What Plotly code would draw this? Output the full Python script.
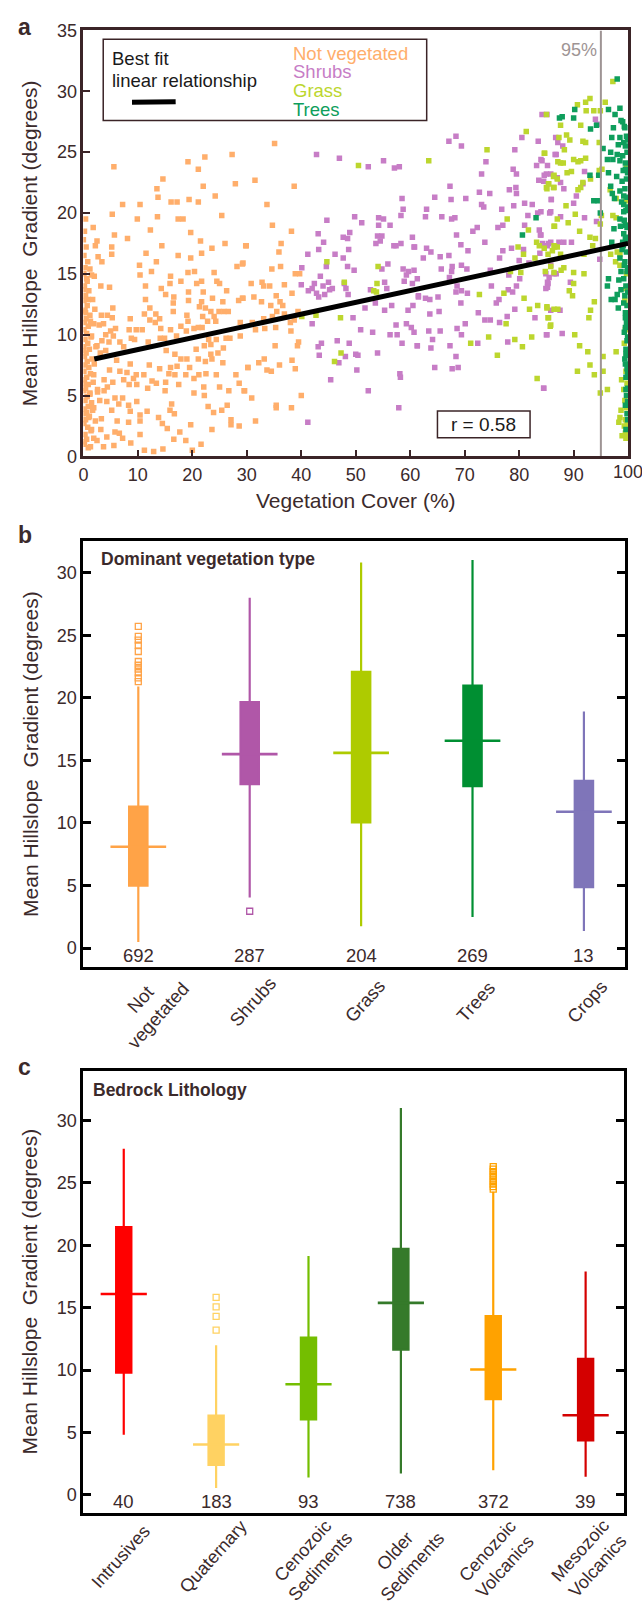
import plotly.graph_objects as go

W, H = 642, 1610
FONT = "Liberation Sans, Arial, Helvetica, sans-serif"
INK = "#3b2a2b"
FRAME_A = "#3b2427"

# ---------------- panel a: gradient vs vegetation cover ----------------
bare_pts = [
    (5.6, 23.8), (19.2, 24.2), (22.3, 24.6), (27.3, 24.8), (21.1, 23.6), (14.6, 22.8), (13.5, 22.0), (13.7, 21.3),
    (22.0, 22.2), (27.9, 22.4), (7.2, 20.7), (10.4, 20.7), (16.1, 20.9), (17.2, 20.9), (19.4, 21.1), (21.1, 20.9),
    (24.2, 21.4), (5.3, 19.9), (9.9, 19.5), (13.6, 19.7), (17.4, 19.5), (18.3, 19.5), (25.4, 19.8), (1.8, 18.8),
    (12.3, 18.6), (5.7, 18.2), (8.1, 17.9), (19.7, 18.4), (2.5, 17.7), (2.2, 17.3), (5.2, 17.2), (14.4, 17.3),
    (21.5, 17.7), (26.0, 17.5), (29.9, 17.3), (5.2, 16.6), (2.7, 16.4), (3.4, 16.0), (11.5, 16.7), (17.4, 16.5),
    (19.7, 16.3), (21.7, 16.7), (23.6, 17.1), (13.4, 16.0), (10.3, 15.7), (28.2, 15.6), (29.2, 15.8), (1.2, 15.4),
    (2.0, 14.8), (10.4, 14.9), (12.5, 15.2), (16.0, 14.8), (17.9, 14.4), (19.2, 15.1), (20.4, 15.2), (24.0, 15.1),
    (0.7, 14.4), (3.2, 14.0), (4.8, 13.9), (11.4, 14.0), (14.3, 13.8), (15.9, 14.2), (20.8, 14.2), (21.7, 14.4),
    (24.5, 14.4), (25.0, 14.2), (19.3, 13.5), (22.0, 13.5), (26.3, 13.6), (15.1, 13.3), (16.6, 13.1), (11.4, 12.9),
    (19.3, 12.8), (21.7, 12.7), (23.7, 13.0), (25.6, 12.7), (28.5, 12.8), (29.2, 13.0), (0.9, 12.9), (12.2, 12.2),
    (16.5, 12.6), (21.3, 12.3), (5.4, 12.2), (2.1, 12.1), (22.4, 12.2), (23.4, 11.9), (24.9, 11.9), (25.8, 11.9),
    (26.6, 11.9), (0.4, 11.8), (11.2, 11.7), (13.3, 11.7), (16.5, 11.9), (19.0, 11.6), (3.3, 11.6), (4.4, 11.6),
    (5.3, 11.4), (8.6, 11.3), (12.2, 11.2), (14.0, 11.3), (21.9, 11.5), (24.0, 11.5), (1.3, 11.1), (2.9, 10.8),
    (3.7, 10.9), (13.2, 11.0), (19.2, 11.1), (22.8, 11.1), (24.3, 11.1), (28.8, 11.0), (17.9, 10.7), (20.3, 10.5),
    (5.9, 10.5), (5.0, 10.3), (8.4, 10.4), (9.7, 10.4), (10.8, 10.4), (14.2, 10.5), (16.0, 10.4), (18.9, 10.3),
    (21.1, 10.6), (21.8, 10.6), (4.1, 10.0), (1.5, 9.9), (8.8, 9.7), (9.4, 9.6), (5.5, 9.9), (14.1, 9.7),
    (14.9, 9.7), (17.1, 9.9), (23.0, 9.6), (24.4, 9.6), (26.2, 9.7), (26.9, 9.7), (28.8, 9.9), (3.4, 9.5),
    (4.7, 9.4), (6.7, 9.4), (11.9, 9.4), (22.2, 9.1), (23.4, 9.2), (2.5, 9.1), (7.4, 9.0), (20.7, 8.8),
    (25.7, 8.9), (15.2, 8.7), (16.8, 8.4), (23.4, 8.4), (24.7, 8.5), (4.1, 8.7), (3.1, 8.5), (17.9, 8.0),
    (19.0, 8.0), (21.1, 8.0), (22.4, 7.8), (23.6, 8.0), (25.6, 7.7), (30.2, 7.3), (6.1, 7.9), (8.6, 7.6),
    (12.1, 7.5), (14.0, 7.2), (16.0, 7.3), (17.2, 7.4), (19.5, 7.3), (4.8, 7.1), (6.7, 7.0), (8.0, 6.9),
    (9.7, 6.7), (11.1, 6.7), (15.7, 6.8), (16.8, 6.7), (18.8, 6.7), (21.2, 6.7), (22.5, 6.8), (24.4, 6.7),
    (28.0, 6.7), (1.9, 6.7), (3.8, 6.3), (5.4, 6.1), (7.4, 6.3), (9.2, 6.4), (12.6, 6.2), (13.4, 6.0),
    (15.1, 6.1), (17.5, 5.9), (20.3, 6.4), (28.6, 6.0), (4.4, 5.7), (8.4, 5.9), (9.8, 5.9), (11.8, 5.6),
    (15.0, 5.4), (22.1, 5.7), (25.0, 5.7), (26.7, 5.4), (29.5, 5.4), (2.6, 5.3), (3.8, 5.4), (1.2, 5.2),
    (5.8, 4.8), (7.2, 4.8), (9.8, 4.5), (20.3, 5.2), (22.2, 5.0), (3.0, 4.6), (4.3, 4.5), (6.5, 4.3),
    (8.3, 4.2), (8.6, 3.7), (16.2, 4.3), (22.9, 4.1), (26.4, 4.2), (1.9, 4.0), (5.2, 3.8), (10.4, 3.4),
    (11.7, 3.7), (15.9, 3.8), (16.7, 3.5), (23.9, 3.6), (25.4, 3.8), (1.0, 3.2), (3.3, 3.1), (6.2, 2.9),
    (8.3, 2.8), (10.4, 2.9), (13.8, 3.2), (14.5, 2.7), (19.7, 2.6), (27.1, 3.0), (27.1, 2.6), (28.6, 2.5),
    (15.4, 2.3), (1.5, 2.2), (3.2, 2.2), (23.6, 2.2), (5.8, 2.0), (6.6, 1.9), (7.2, 1.5), (10.4, 1.8),
    (17.7, 2.0), (4.3, 1.6), (1.9, 1.5), (16.6, 1.4), (18.8, 1.3), (2.5, 1.3), (8.7, 1.1), (21.6, 1.0),
    (1.3, 0.8), (3.7, 0.8), (5.6, 0.9), (11.2, 0.5), (12.9, 0.4), (14.6, 0.6), (20.0, 0.5),
    # sites with almost no cover
    (0.2, 18.5), (0.5, 17.2), (0.1, 16.5), (0.8, 16.0), (0.3, 15.5), (0.1, 15.0), (0.6, 14.6), (0.2, 14.0),
    (1.0, 13.6), (0.4, 13.2), (0.1, 12.8), (0.7, 12.4), (0.3, 12.0), (1.2, 11.6), (0.5, 11.3), (0.2, 11.0),
    (0.9, 10.7), (0.1, 10.4), (0.6, 10.1), (1.4, 9.8), (0.3, 9.6), (0.8, 9.3), (0.1, 9.0), (1.1, 8.8),
    (0.5, 8.5), (0.2, 8.2), (1.6, 8.0), (0.7, 7.8), (0.3, 7.5), (1.0, 7.3), (0.1, 7.0), (1.3, 6.8),
    (0.6, 6.5), (0.2, 6.3), (1.8, 6.1), (0.9, 5.9), (0.4, 5.6), (0.1, 5.4), (1.2, 5.1), (0.7, 4.9),
    (0.3, 4.6), (1.5, 4.4), (0.9, 4.1), (0.2, 3.9), (0.6, 3.6), (1.1, 3.3), (0.4, 3.0), (0.1, 2.7),
    (0.8, 2.4), (1.4, 2.1), (0.3, 1.8), (0.6, 1.4), (0.2, 1.0), (0.9, 0.7), (1.7, 12.9), (1.9, 10.9),
    (1.5, 14.9), (0.4, 19.5), (0.0, 17.8), (2.0, 7.6), (2.3, 9.0), (2.6, 5.5), (1.7, 3.8), (2.2, 2.9),
    (0.05, 13.7), (0.05, 11.9), (0.05, 8.7), (0.05, 6.0), (0.05, 3.5), (0.05, 1.2),
    # 30-40 % cover
    (35.1, 25.7), (31.5, 22.7), (38.7, 22.2), (33.7, 20.7), (34.7, 19.0), (38.2, 18.5), (29.8, 17.3), (36.3, 17.5),
    (35.9, 16.8), (29.3, 15.9), (34.6, 15.4), (36.2, 15.6), (38.9, 15.0), (39.7, 15.0), (30.8, 14.2), (32.8, 14.3),
    (33.1, 14.0), (34.2, 14.0), (36.9, 14.1), (38.3, 13.4), (29.3, 13.0), (31.3, 13.1), (35.4, 13.2), (32.7, 12.7),
    (36.1, 12.7), (34.4, 12.4), (36.6, 12.4), (35.5, 11.9), (36.9, 11.7), (39.4, 11.9), (33.1, 11.3), (34.7, 11.5),
    (38.7, 11.2), (31.0, 11.0), (31.6, 10.4), (33.3, 10.5), (35.3, 10.6), (38.0, 11.0), (38.1, 10.3), (35.2, 9.1),
    (39.3, 9.1), (39.5, 9.4), (33.2, 8.0), (32.2, 7.7), (36.0, 7.5), (30.2, 7.3), (33.7, 7.1), (34.5, 7.0),
    (38.3, 7.9), (38.9, 7.2), (29.6, 5.4), (30.9, 4.8), (40.0, 5.0), (35.4, 4.2), (35.4, 4.0), (38.2, 4.0),
    (31.6, 2.9),
]

shrub_pts = [
    (42.8, 24.8), (47.0, 24.5), (52.3, 23.8), (55.1, 24.3), (57.1, 23.7), (58.0, 23.8), (58.5, 21.2), (58.7, 20.3),
    (58.3, 19.8), (49.8, 19.7), (51.1, 19.2), (54.2, 19.6), (55.1, 19.5), (54.2, 19.0), (56.3, 19.0), (44.7, 19.4),
    (43.1, 18.3), (48.9, 18.4), (47.7, 18.0), (48.5, 17.9), (44.1, 17.6), (43.2, 17.0), (54.0, 18.1), (54.8, 18.1),
    (54.5, 17.7), (53.7, 17.5), (57.0, 17.3), (57.4, 17.3), (58.3, 17.5), (60.4, 18.0), (60.7, 17.2), (41.2, 16.6),
    (46.2, 16.6), (47.7, 16.3), (48.7, 17.0), (44.6, 15.6), (48.5, 15.6), (49.7, 15.3), (55.9, 15.8), (54.8, 15.4),
    (40.1, 15.5), (58.7, 15.4), (59.7, 15.2), (60.7, 15.3), (43.5, 14.8), (40.0, 14.1), (42.4, 14.2), (44.0, 14.0),
    (45.0, 14.3), (41.3, 13.6), (42.0, 13.8), (42.8, 13.4), (43.2, 13.1), (44.3, 13.3), (45.2, 13.7), (45.7, 13.8),
    (47.9, 14.2), (48.2, 13.8), (48.6, 13.3), (52.7, 13.7), (55.3, 14.3), (55.7, 13.8), (58.9, 14.4), (59.3, 14.9),
    (60.4, 14.2), (61.5, 13.2), (51.7, 12.2), (53.6, 12.6), (55.3, 12.0), (56.6, 12.4), (59.6, 12.0), (60.5, 12.4),
    (49.5, 11.4), (42.0, 10.9), (50.9, 10.4), (53.1, 10.2), (57.4, 10.8), (56.3, 10.0), (57.6, 10.0), (59.3, 10.9),
    (60.2, 10.6), (60.7, 10.2), (43.7, 9.3), (43.1, 9.0), (46.6, 9.5), (48.8, 9.3), (43.3, 8.3), (48.1, 8.2),
    (50.0, 8.4), (50.4, 8.3), (54.0, 8.5), (58.5, 9.3), (61.3, 9.1), (46.9, 7.7), (50.2, 7.1), (45.4, 6.3),
    (52.3, 5.4), (58.1, 6.8), (58.2, 6.5), (57.9, 4.0), (41.2, 2.8),
    (68.4, 26.3), (67.1, 25.9), (69.4, 25.5), (80.5, 26.2), (83.5, 25.9), (79.2, 25.2), (73.9, 24.2), (84.2, 24.3),
    (83.2, 23.9), (86.8, 24.8), (78.9, 23.6), (79.5, 23.2), (73.1, 23.2), (85.0, 23.2), (83.6, 22.7), (67.3, 22.2),
    (78.2, 21.9), (79.4, 22.1), (79.5, 21.6), (72.7, 21.7), (74.6, 21.6), (64.5, 21.3), (67.5, 21.1), (70.2, 21.2),
    (73.1, 20.7), (73.5, 20.5), (81.0, 20.8), (82.4, 20.7), (79.0, 20.6), (85.9, 21.1), (63.0, 20.3), (62.8, 19.7),
    (65.8, 19.7), (67.6, 19.5), (68.2, 19.6), (76.8, 20.3), (81.6, 19.8), (83.4, 20.0), (85.6, 20.0), (77.0, 19.0),
    (81.0, 19.0), (72.3, 18.8), (71.5, 18.5), (76.1, 18.8), (83.7, 18.6), (83.9, 18.2), (68.5, 18.2), (73.7, 17.6),
    (69.3, 17.4), (78.6, 17.1), (77.0, 16.9), (84.3, 17.5), (85.4, 17.5), (83.8, 16.7), (80.8, 17.0), (80.0, 16.1),
    (81.8, 15.9), (70.6, 16.9), (63.0, 17.1), (63.8, 16.8), (62.4, 16.3), (60.8, 17.2), (65.5, 16.4), (67.1, 16.5),
    (76.4, 16.3), (65.7, 15.4), (67.7, 15.6), (67.6, 15.2), (69.4, 15.7), (70.4, 15.4), (74.7, 15.3), (78.1, 14.9),
    (80.1, 14.6), (85.5, 14.7), (86.8, 15.0), (67.2, 14.7), (61.3, 14.6), (68.6, 14.0), (74.9, 14.0), (79.5, 14.0),
    (84.9, 13.8), (85.3, 14.2), (68.4, 13.5), (69.4, 13.6), (70.5, 13.4), (78.0, 13.7), (78.8, 13.5), (61.5, 13.1),
    (62.8, 13.0), (63.6, 12.9), (65.1, 13.1), (69.3, 12.6), (76.3, 12.9), (75.8, 12.6), (79.2, 12.1), (63.6, 11.7),
    (65.3, 11.9), (72.5, 11.8), (77.8, 11.5), (73.7, 11.2), (74.7, 11.2), (76.4, 11.0), (82.9, 11.4), (70.1, 10.9),
    (68.6, 10.5), (69.4, 10.0), (63.4, 10.3), (65.5, 10.3), (64.1, 9.6), (72.4, 9.3), (77.9, 9.4), (85.0, 10.0),
    (61.3, 9.1), (63.8, 8.9), (67.3, 9.1), (68.4, 8.2), (64.5, 7.3), (67.7, 7.2), (68.8, 7.3), (84.5, 5.6),
    (84.2, 28.1), (85.1, 28.1), (94.0, 27.7), (94.3, 27.3), (86.7, 26.2), (87.1, 25.8), (88.0, 25.5), (86.6, 24.8),
    (84.0, 24.4), (85.2, 23.9), (85.8, 23.2), (84.6, 23.1), (84.5, 22.6), (87.0, 22.9), (87.6, 22.5), (88.2, 22.0),
    (92.0, 23.4), (91.7, 22.4), (90.5, 21.4), (85.9, 21.1), (84.0, 20.1), (90.0, 20.8), (85.8, 20.1), (92.0, 19.6),
    (87.6, 19.7), (94.2, 19.3), (84.0, 18.2), (85.8, 17.6), (87.3, 17.6), (88.2, 17.6), (89.6, 17.6), (85.2, 17.3),
    (85.8, 15.7), (84.9, 15.0), (86.4, 15.0), (85.2, 14.3), (85.2, 13.9), (89.4, 14.3), (87.5, 12.0), (85.8, 12.0),
    (85.1, 10.0), (87.9, 10.1), (94.8, 16.2), (84.5, 5.6),
]

grass_pts = [
    (50.5, 23.9), (44.7, 16.0), (54.1, 15.6), (47.9, 14.3), (53.9, 14.2), (53.3, 13.6), (53.8, 13.5), (42.7, 11.6),
    (47.2, 11.4), (47.3, 8.5), (46.1, 7.8), (40.1, 11.5),
    (63.4, 24.3), (74.1, 25.2), (81.3, 26.7), (84.6, 24.9), (87.1, 24.2), (86.3, 23.0), (85.4, 22.4), (85.0, 22.1),
    (86.3, 22.1), (87.0, 22.8), (77.8, 19.5), (86.5, 18.9), (81.7, 18.6), (83.2, 17.6), (83.7, 17.3), (79.8, 17.2),
    (80.8, 16.6), (82.9, 16.3), (86.5, 17.2), (86.1, 16.9), (85.8, 15.6), (84.8, 15.2), (80.3, 15.1), (78.4, 15.2),
    (72.7, 13.3), (77.2, 13.4), (80.9, 13.0), (81.9, 12.1), (83.4, 12.4), (85.1, 12.3), (86.4, 12.1), (87.1, 12.1),
    (85.3, 11.4), (85.8, 10.8), (77.6, 10.9), (74.4, 9.8), (82.3, 9.8), (71.1, 9.3), (79.2, 9.6), (80.6, 9.0),
    (76.0, 8.3), (83.3, 6.4), (85.0, 28.1), (88.3, 25.2),
    (97.2, 30.8), (93.0, 29.4), (92.2, 29.1), (90.7, 28.9), (95.8, 29.1), (93.7, 28.4), (92.3, 28.4), (94.9, 28.4),
    (91.3, 27.2), (87.6, 27.2), (88.7, 26.4), (87.3, 26.2), (89.3, 26.0), (91.7, 25.9), (92.2, 25.8), (94.7, 25.8),
    (84.7, 24.9), (87.6, 24.1), (88.1, 24.1), (90.0, 24.4), (90.8, 24.2), (91.3, 24.3), (92.2, 24.5), (88.8, 23.3),
    (89.6, 23.4), (86.4, 23.1), (85.4, 22.4), (85.1, 22.0), (86.4, 22.1), (91.7, 22.5), (91.3, 22.1), (90.8, 21.9),
    (93.1, 22.8), (94.7, 23.5), (95.2, 23.6), (96.7, 21.9), (97.8, 21.2), (88.6, 20.6), (90.3, 19.9), (87.0, 19.5),
    (89.0, 19.2), (86.4, 18.9), (91.1, 18.5), (93.0, 18.0), (94.0, 17.9), (94.9, 19.1), (95.1, 19.8), (97.2, 19.8),
    (97.8, 19.6), (86.4, 17.3), (87.0, 17.2), (85.3, 16.6), (84.6, 17.1), (87.6, 16.6), (91.9, 16.6), (93.5, 17.3),
    (98.0, 16.8), (96.8, 16.6), (98.5, 16.6), (97.7, 16.0), (98.5, 15.7), (88.2, 15.5), (87.7, 15.3), (86.4, 15.1),
    (90.0, 15.1), (91.9, 15.0), (90.0, 14.2), (89.2, 13.6), (89.8, 13.2), (93.8, 12.7), (85.1, 12.2), (93.1, 12.0),
    (85.4, 11.4), (92.8, 11.4), (85.7, 10.7), (90.2, 10.0), (91.1, 9.1), (92.6, 8.6), (95.4, 8.2), (97.8, 8.6),
    (93.0, 7.5), (90.7, 7.0), (93.8, 6.7), (95.4, 7.0), (94.9, 5.2), (96.2, 5.5), (98.8, 6.3), (98.7, 3.8),
    (98.5, 3.2), (98.3, 2.8), (98.9, 1.7), (99.2, 5.5), (99.3, 9.3), (99.4, 12.8),
    (99.6, 1.5), (99.8, 2.6), (99.5, 3.0), (99.7, 4.0), (99.4, 4.6), (99.8, 6.0), (99.6, 7.0), (99.7, 8.5),
    (99.5, 10.4), (99.8, 11.3), (99.6, 13.8), (99.7, 15.0), (99.8, 19.0), (99.6, 21.0), (99.7, 24.0), (99.5, 1.9),
    (99.3, 2.5),
]

tree_pts = [
    (83.1, 19.6), (80.6, 18.2), (87.4, 27.8),
    (98.0, 31.0), (90.2, 28.5), (96.4, 28.5), (97.6, 28.1), (98.5, 28.6), (87.9, 27.9), (90.0, 27.8), (93.1, 26.9),
    (94.2, 27.2), (97.0, 26.2), (98.5, 26.2), (99.0, 27.5), (99.3, 27.1), (95.4, 25.3), (96.2, 24.4), (97.2, 24.4),
    (98.0, 24.8), (98.5, 24.3), (99.0, 24.7), (99.5, 25.5), (99.5, 23.6), (96.4, 23.3), (94.6, 23.1), (93.0, 23.1),
    (96.8, 22.2), (97.1, 21.6), (97.5, 21.2), (93.7, 21.0), (94.5, 21.0), (98.5, 21.8), (99.2, 21.4), (94.9, 20.0),
    (99.2, 20.1), (98.5, 19.5), (99.5, 19.0), (99.2, 18.3), (97.0, 17.6), (99.0, 17.6), (98.5, 16.3), (99.3, 15.7),
    (96.2, 14.0), (98.7, 13.7), (98.2, 12.2), (99.2, 12.6), (99.5, 11.4), (99.5, 10.6), (99.6, 8.4), (99.5, 7.6),
    (99.6, 5.5),
    (99.4, 27.0), (99.7, 26.3), (99.2, 25.8), (99.8, 25.0), (99.5, 24.1), (99.1, 23.5), (99.7, 22.8), (99.4, 22.0),
    (99.8, 21.3), (99.2, 20.7), (99.6, 20.2), (99.3, 19.4), (99.8, 18.8), (99.5, 18.0), (99.1, 17.3), (99.7, 16.8),
    (99.4, 16.0), (99.8, 15.2), (99.2, 14.6), (99.6, 14.0), (99.4, 13.2), (99.8, 12.4), (99.5, 11.8), (99.7, 11.0),
    (99.3, 10.2), (99.8, 9.5), (99.6, 8.8), (99.4, 8.0), (99.8, 7.2), (99.6, 6.5), (99.7, 5.0), (99.5, 4.2),
    (99.8, 3.5), (99.6, 2.2), (98.9, 22.6), (98.8, 20.9), (98.6, 18.9), (98.9, 17.0), (98.7, 15.2), (98.3, 14.5),
    (98.0, 13.3), (97.6, 12.9), (96.9, 12.9), (96.4, 14.6), (97.4, 18.7), (97.9, 23.0), (98.2, 25.6), (96.8, 25.0),
    (97.3, 27.0), (98.7, 27.6), (99.9, 26.0), (99.9, 23.3), (99.9, 20.5), (99.9, 17.8), (99.9, 15.5), (99.9, 13.5),
    (99.9, 11.6), (99.9, 9.8), (99.9, 8.3), (99.9, 6.9), (99.9, 5.6), (99.9, 4.5), (99.9, 3.0),
]

cover_groups = ["Not vegetated", "Shrubs", "Grass", "Trees"]
cover_colors = ["#FFAE6B", "#C77DC6", "#BCD62E", "#0E9E5C"]
cover_ticks = list(range(0, 101, 10))

fit_x = [2, 100]
fit_y = [8.0, 17.5]
threshold = 95
r_value = 0.58

# ---------------- panel b: dominant vegetation type ----------------
veg_types = ["Not<br>vegetated", "Shrubs", "Grass", "Trees", "Crops"]
veg_n = [692, 287, 204, 269, 13]
veg_low = [0.5, 4.05, 1.76, 2.5, 1.37]
veg_q1 = [5.0, 13.1, 10.05, 12.94, 4.87]
veg_median = [8.1, 15.5, 15.6, 16.57, 10.9]
veg_q3 = [11.3, 19.65, 22.07, 20.97, 13.37]
veg_high = [20.9, 28.0, 30.8, 31.0, 18.9]
veg_outliers = [[21.3, 21.6, 22.0, 22.3, 22.6, 22.9, 23.7, 24.2, 24.6, 24.9, 25.7], [2.95], [], [], []]
veg_colors = ["#FFA347", "#B057A8", "#AECB00", "#008F32", "#7F75B9"]

# ---------------- panel c: bedrock lithology ----------------
litho = ["Intrusives", "Quaternary", "Cenozoic<br>Sediments", "Older<br>Sediments",
         "Cenozoic<br>Volcanics", "Mesozoic<br>Volcanics"]
litho_n = [40, 183, 93, 738, 372, 39]
litho_low = [4.82, 0.54, 1.39, 1.7, 1.97, 1.44]
litho_q1 = [9.79, 2.39, 6.04, 11.63, 7.67, 4.37]
litho_median = [16.1, 4.03, 8.86, 15.39, 10.05, 6.38]
litho_q3 = [21.46, 6.35, 12.61, 19.72, 14.33, 10.9]
litho_high = [27.75, 11.98, 19.14, 31.0, 24.3, 17.9]
litho_outliers = [[], [13.2, 14.3, 15.07, 15.83], [], [],
                  [24.5, 24.7, 24.9, 25.1, 25.3, 25.5, 25.7, 25.9, 26.1, 26.3], []]
litho_colors = ["#FF0000", "#FFD262", "#74BE00", "#357A2A", "#FFA200", "#D40000"]

# ---------------- layout geometry (pixels) ----------------
PANEL_A = dict(l=79, r=628, t=20.7, b=452, xr=[0, 100], yr=[0, 35])
PANEL_B = dict(l=79, r=625, t=538, b=969, xr=[0.507, 5.37], yr=[-1.5, 32.5])
PANEL_C = dict(l=79, r=624, t=1074, b=1521.7, xr=[0.563, 6.417], yr=[-1.44, 34.0])


def fx(px):
    return px / W


def fy(py):
    return 1 - py / H


def cat_px(panel, pos):
    x0, x1 = panel["xr"]
    return panel["l"] + (pos - x0) / (x1 - x0) * (panel["r"] - panel["l"])


fig = go.Figure()

# scatter of sites
for pts, name, col in zip([bare_pts, shrub_pts, grass_pts, tree_pts], cover_groups, cover_colors):
    fig.add_trace(go.Scatter(
        x=[p[0] for p in pts], y=[p[1] for p in pts], mode="markers", name=name,
        marker=dict(symbol="square", size=5.5, color=col, line=dict(width=0)),
        xaxis="x", yaxis="y", hoverinfo="skip"))

# 95 % cover threshold
fig.add_trace(go.Scatter(x=[threshold, threshold], y=PANEL_A["yr"], mode="lines",
                         line=dict(color="#9E9494", width=2), xaxis="x", yaxis="y", hoverinfo="skip"))
# linear fit
fig.add_trace(go.Scatter(x=fit_x, y=fit_y, mode="lines", line=dict(color="black", width=5),
                         xaxis="x", yaxis="y", hoverinfo="skip"))


def add_boxes(axis_id, lows, q1s, meds, q3s, highs, outs, cols):
    xa, ya = "x" + axis_id, "y" + axis_id
    for i, (lo, q1, md, q3, hi, out, c) in enumerate(zip(lows, q1s, meds, q3s, highs, outs, cols)):
        pos = i + 1
        fig.add_trace(go.Box(
            x=[pos], lowerfence=[lo], q1=[q1], median=[md], q3=[q3], upperfence=[hi],
            width=0.165, whiskerwidth=0, fillcolor=c, line=dict(color=c, width=2.2),
            boxpoints=False, xaxis=xa, yaxis=ya, hoverinfo="skip"))
        fig.add_trace(go.Scatter(
            x=[pos - 0.25, pos + 0.25], y=[md, md], mode="lines",
            line=dict(color=c, width=2.6), xaxis=xa, yaxis=ya, hoverinfo="skip"))
        if out:
            fig.add_trace(go.Scatter(
                x=[pos] * len(out), y=out, mode="markers",
                marker=dict(symbol="square-open", size=6, color=c, line=dict(width=1.3, color=c)),
                xaxis=xa, yaxis=ya, hoverinfo="skip"))


add_boxes("2", veg_low, veg_q1, veg_median, veg_q3, veg_high, veg_outliers, veg_colors)
add_boxes("3", litho_low, litho_q1, litho_median, litho_q3, litho_high, litho_outliers, litho_colors)

tick_font = dict(family=FONT, size=18, color=INK)


def xdom(p):
    return [fx(p["l"]), fx(p["r"])]


def ydom(p):
    return [fy(p["b"]), fy(p["t"])]


# the last cover label sits on the page edge, so it is written separately below
cover_text = [str(v) for v in cover_ticks[:-1]] + [""]

fig.update_layout(
    width=W, height=H, margin=dict(l=0, r=0, t=0, b=0),
    paper_bgcolor="white", plot_bgcolor="white", showlegend=False,
    font=dict(family=FONT, color=INK),
    xaxis=dict(domain=xdom(PANEL_A), range=PANEL_A["xr"], anchor="y",
               tickvals=cover_ticks, ticktext=cover_text,
               ticks="inside", ticklen=7, tickwidth=2, tickcolor=FRAME_A,
               showline=True, linecolor=FRAME_A, linewidth=2.5, mirror=True,
               showgrid=False, zeroline=False, tickfont=tick_font),
    yaxis=dict(domain=ydom(PANEL_A), range=PANEL_A["yr"], anchor="x",
               tickvals=list(range(0, 36, 5)), ticks="inside", ticklen=7, tickwidth=2, tickcolor=FRAME_A,
               showline=True, linecolor=FRAME_A, linewidth=2.5, mirror=True,
               showgrid=False, zeroline=False, tickfont=tick_font),
    xaxis2=dict(domain=xdom(PANEL_B), range=PANEL_B["xr"], anchor="y2", showticklabels=False, ticks="",
                showline=True, linecolor="black", linewidth=3, mirror=True, showgrid=False, zeroline=False),
    yaxis2=dict(domain=ydom(PANEL_B), range=PANEL_B["yr"], anchor="x2",
                tickvals=list(range(0, 31, 5)), ticks="inside", ticklen=8, tickwidth=2.5, tickcolor="black",
                showline=True, linecolor="black", linewidth=3, mirror="ticks",
                showgrid=False, zeroline=False, tickfont=tick_font),
    xaxis3=dict(domain=xdom(PANEL_C), range=PANEL_C["xr"], anchor="y3", showticklabels=False, ticks="",
                showline=True, linecolor="black", linewidth=3, mirror=True, showgrid=False, zeroline=False),
    yaxis3=dict(domain=ydom(PANEL_C), range=PANEL_C["yr"], anchor="x3",
                tickvals=list(range(0, 31, 5)), ticks="inside", ticklen=8, tickwidth=2.5, tickcolor="black",
                showline=True, linecolor="black", linewidth=3, mirror="ticks",
                showgrid=False, zeroline=False, tickfont=tick_font),
)

ann = []
shapes = []


def text(x, y, s, size=18, color=INK, xanchor="center", yanchor="middle", bold=False, angle=0,
         xref="paper", yref="paper"):
    ann.append(dict(x=x, y=y, xref=xref, yref=yref, text=f"<b>{s}</b>" if bold else s,
                    showarrow=False, xanchor=xanchor, yanchor=yanchor, textangle=angle,
                    font=dict(family=FONT, size=size, color=color)))


# panel letters
text(fx(20), fy(17), "a", size=23, bold=True)
text(fx(20), fy(532), "b", size=23, bold=True)
text(fx(20), fy(1070), "c", size=23, bold=True)

# y-axis titles
ytitle = "Mean Hillslope\u00a0 Gradient (degrees)"
for p in (PANEL_A, PANEL_B, PANEL_C):
    text(fx(25), fy((p["t"] + p["b"]) / 2), ytitle, size=21, angle=-90)

# panel a extras
text(cover_ticks[-1], fy(468), str(cover_ticks[-1]), size=18, xref="x", yref="paper")
text(fx((PANEL_A["l"] + PANEL_A["r"]) / 2), fy(497), "Vegetation Cover (%)", size=21)
shapes.append(dict(type="rect", xref="paper", yref="paper", x0=fx(99), x1=fx(425), y0=fy(112), y1=fy(29.7),
                   line=dict(color=FRAME_A, width=1.5), fillcolor="white", layer="above"))
text(fx(106), fy(49.5), "Best fit", size=18.5, color="#1a1a1a", xanchor="left")
text(fx(106), fy(71.5), "linear relationship", size=18.5, color="#1a1a1a", xanchor="left")
shapes.append(dict(type="line", xref="paper", yref="paper", x0=fx(128), x1=fx(172), y0=fy(93.5), y1=fy(93),
                   line=dict(color="black", width=5), layer="above"))
for k, (name, col) in enumerate(zip(cover_groups, cover_colors)):
    text(fx(288), fy(43.7 + 19 * k), name, size=18.5, color=col, xanchor="left")
text(threshold - 0.3, 33.4, f"{threshold}%", size=18, color="#9E9494", xanchor="right", xref="x", yref="y")
shapes.append(dict(type="rect", xref="x", yref="y", x0=65.0, x1=82.0, y0=1.54, y1=3.73,
                   line=dict(color=FRAME_A, width=1.5), fillcolor="white", layer="above"))
text(73.5, 2.62, f"r = {r_value}", size=19, color="#1a1a1a", xref="x", yref="y")

# panel b extras
text(fx(95), fy(556), "Dominant vegetation type", size=17.5, bold=True, xanchor="left")
for i, (lab, n) in enumerate(zip(veg_types, veg_n)):
    text(i + 1, -0.55, str(n), size=18.5, xref="x2", yref="y2")
    cx = cat_px(PANEL_B, i + 1)
    dx, dy = (11, 7) if "<br>" in lab else (3, 0)
    text(fx(cx + dx), fy(1003.5 + dy), lab, size=18.5, angle=-48)

# panel c extras
text(fx(87), fy(1094), "Bedrock Lithology", size=17.5, bold=True, xanchor="left")
for i, (lab, n) in enumerate(zip(litho, litho_n)):
    text(i + 1, -0.5, str(n), size=18.5, xref="x3", yref="y3")
    cx = cat_px(PANEL_C, i + 1)
    dx, dy = (3, 2) if "<br>" in lab else (-3.5, 0)
    text(fx(cx + dx), fy(1566 + dy), lab, size=18, angle=-48)

fig.update_layout(annotations=ann, shapes=shapes)
fig.write_html("out.html")
